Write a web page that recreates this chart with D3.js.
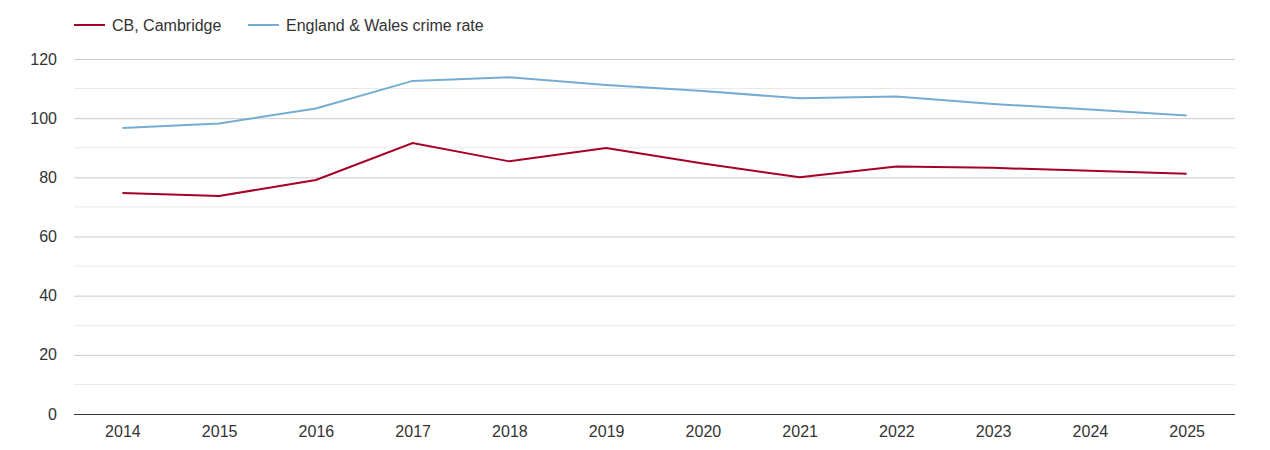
<!DOCTYPE html>
<html>
<head>
<meta charset="utf-8">
<script src="https://cdn.jsdelivr.net/npm/d3@7"></script>
<style>
  body { margin: 0; background: #fff; }
  svg text { font-family: "Liberation Sans", Arial, sans-serif; fill: #333; }
</style>
</head>
<body>
<div id="canvas"></div>
<script>
const years = ["2014","2015","2016","2017","2018","2019","2020","2021","2022","2023","2024","2025"];
const cambridge = [74.7, 73.7, 79.1, 91.6, 85.4, 89.9, 84.7, 80.0, 83.7, 83.2, 82.2, 81.2];
const englandWales = [96.7, 98.2, 103.3, 112.6, 113.8, 111.2, 109.2, 106.7, 107.3, 104.8, 102.9, 100.9];
const seriesNames = ["CB, Cambridge", "England & Wales crime rate"];
const seriesColors = ["#a50026", "#74add1"];
const yTicks = [0, 20, 40, 60, 80, 100, 120];
const yMinor = [10, 30, 50, 70, 90, 110];

const width = 1270;
const height = 450;
const margin = { top: 59, left: 74, bottom: 36, right: 35 };
const iwidth = width - margin.left - margin.right;
const iheight = height - margin.top - margin.bottom;

const svg = d3.select("#canvas").append("svg")
  .attr("width", width)
  .attr("height", height);

const g = svg.append("g").attr("transform", `translate(${margin.left},${margin.top})`);

const x = d3.scalePoint()
  .domain(years)
  .range([0, iwidth])
  .padding(0.5);

const y = d3.scaleLinear()
  .domain([0, 120])
  .range([iheight, 0]);

// minor grid
g.selectAll(".minor").data(yMinor).enter().append("line")
  .attr("x1", 0).attr("x2", iwidth)
  .attr("y1", d => y(d)).attr("y2", d => y(d))
  .attr("stroke", "#e8e8e8").attr("stroke-width", 1);

// major grid + y labels
const yAxis = g.append("g")
  .call(d3.axisLeft(y).tickValues(yTicks).tickSize(-iwidth).tickPadding(17));
yAxis.select(".domain").remove();
yAxis.selectAll(".tick line").attr("stroke", d => d === 0 ? "none" : "#ccc");
yAxis.selectAll(".tick text").style("font-size", "16px");

// x axis
const xAxis = g.append("g")
  .attr("transform", `translate(0,${iheight})`)
  .call(d3.axisBottom(x).tickSize(0).tickPadding(12));
xAxis.select(".domain").attr("stroke", "#333").attr("d", `M0,0.5H${iwidth}`);
xAxis.selectAll(".tick text").style("font-size", "16px");

const line = d3.line()
  .x((d, i) => x(years[i]))
  .y(d => y(d));

[englandWales, cambridge].forEach((vals, k) => {
  g.append("path")
    .datum(vals)
    .attr("fill", "none")
    .attr("stroke", k === 0 ? seriesColors[1] : seriesColors[0])
    .attr("stroke-width", 2)
    .attr("d", line);
});

// legend
const legend = svg.append("g").attr("transform", "translate(74,25)");
const legendX = [0, 174];
seriesNames.forEach((name, i) => {
  const item = legend.append("g").attr("transform", `translate(${legendX[i]},0)`);
  item.append("line")
    .attr("x1", 0).attr("x2", 31)
    .attr("stroke", seriesColors[i]).attr("stroke-width", 2);
  item.append("text")
    .attr("x", 38).attr("dy", "0.35em")
    .style("font-size", "16px")
    .text(name);
});
</script>
</body>
</html>
